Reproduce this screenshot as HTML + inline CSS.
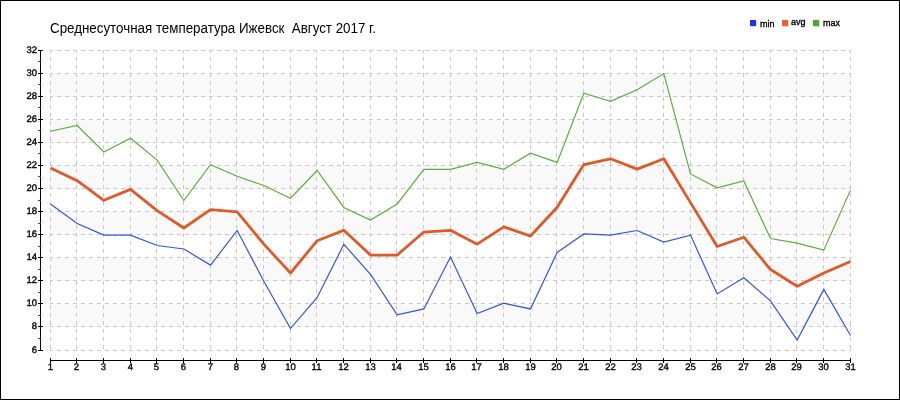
<!DOCTYPE html>
<html><head><meta charset="utf-8"><style>
html,body{margin:0;padding:0;background:#fff;}
.wrap{position:relative;width:898px;height:398px;border:1px solid #000;overflow:hidden;background:#fff;}
svg{position:absolute;left:-1px;top:-1px;will-change:transform;}
text{font-family:"Liberation Sans",sans-serif;fill:#000;}
.g{stroke:#c8c8c8;stroke-width:1;stroke-dasharray:4 4;stroke-dashoffset:1;}
.yl{font-size:9.5px;text-rendering:geometricPrecision;text-anchor:end;stroke:#000;stroke-width:0.35px;}
.xl{font-size:9.5px;text-rendering:geometricPrecision;text-anchor:middle;stroke:#000;stroke-width:0.35px;}
.lg{font-size:9px;stroke:#000;stroke-width:0.35px;}
.tt{font-size:14px;}
</style></head><body><div class="wrap">
<svg width="900" height="400" viewBox="0 0 900 400">
<rect x="50" y="74" width="801" height="23" fill="#f9f9f9"/>
<rect x="50" y="120" width="801" height="23" fill="#f9f9f9"/>
<rect x="50" y="166" width="801" height="23" fill="#f9f9f9"/>
<rect x="50" y="212" width="801" height="23" fill="#f9f9f9"/>
<rect x="50" y="258" width="801" height="23" fill="#f9f9f9"/>
<rect x="50" y="304" width="801" height="23" fill="#f9f9f9"/>
<line x1="50" y1="350.5" x2="851" y2="350.5" class="g"/>
<line x1="50" y1="326.5" x2="851" y2="326.5" class="g"/>
<line x1="50" y1="303.5" x2="851" y2="303.5" class="g"/>
<line x1="50" y1="280.5" x2="851" y2="280.5" class="g"/>
<line x1="50" y1="257.5" x2="851" y2="257.5" class="g"/>
<line x1="50" y1="234.5" x2="851" y2="234.5" class="g"/>
<line x1="50" y1="211.5" x2="851" y2="211.5" class="g"/>
<line x1="50" y1="188.5" x2="851" y2="188.5" class="g"/>
<line x1="50" y1="165.5" x2="851" y2="165.5" class="g"/>
<line x1="50" y1="142.5" x2="851" y2="142.5" class="g"/>
<line x1="50" y1="119.5" x2="851" y2="119.5" class="g"/>
<line x1="50" y1="96.5" x2="851" y2="96.5" class="g"/>
<line x1="50" y1="73.5" x2="851" y2="73.5" class="g"/>
<line x1="50" y1="50.5" x2="851" y2="50.5" class="g"/>
<line x1="50.5" y1="50" x2="50.5" y2="351" class="g"/>
<line x1="76.5" y1="50" x2="76.5" y2="351" class="g"/>
<line x1="103.5" y1="50" x2="103.5" y2="351" class="g"/>
<line x1="130.5" y1="50" x2="130.5" y2="351" class="g"/>
<line x1="156.5" y1="50" x2="156.5" y2="351" class="g"/>
<line x1="183.5" y1="50" x2="183.5" y2="351" class="g"/>
<line x1="210.5" y1="50" x2="210.5" y2="351" class="g"/>
<line x1="236.5" y1="50" x2="236.5" y2="351" class="g"/>
<line x1="263.5" y1="50" x2="263.5" y2="351" class="g"/>
<line x1="290.5" y1="50" x2="290.5" y2="351" class="g"/>
<line x1="316.5" y1="50" x2="316.5" y2="351" class="g"/>
<line x1="343.5" y1="50" x2="343.5" y2="351" class="g"/>
<line x1="370.5" y1="50" x2="370.5" y2="351" class="g"/>
<line x1="396.5" y1="50" x2="396.5" y2="351" class="g"/>
<line x1="423.5" y1="50" x2="423.5" y2="351" class="g"/>
<line x1="450.5" y1="50" x2="450.5" y2="351" class="g"/>
<line x1="476.5" y1="50" x2="476.5" y2="351" class="g"/>
<line x1="503.5" y1="50" x2="503.5" y2="351" class="g"/>
<line x1="530.5" y1="50" x2="530.5" y2="351" class="g"/>
<line x1="556.5" y1="50" x2="556.5" y2="351" class="g"/>
<line x1="583.5" y1="50" x2="583.5" y2="351" class="g"/>
<line x1="610.5" y1="50" x2="610.5" y2="351" class="g"/>
<line x1="636.5" y1="50" x2="636.5" y2="351" class="g"/>
<line x1="663.5" y1="50" x2="663.5" y2="351" class="g"/>
<line x1="690.5" y1="50" x2="690.5" y2="351" class="g"/>
<line x1="716.5" y1="50" x2="716.5" y2="351" class="g"/>
<line x1="743.5" y1="50" x2="743.5" y2="351" class="g"/>
<line x1="770.5" y1="50" x2="770.5" y2="351" class="g"/>
<line x1="796.5" y1="50" x2="796.5" y2="351" class="g"/>
<line x1="823.5" y1="50" x2="823.5" y2="351" class="g"/>
<line x1="850.5" y1="50" x2="850.5" y2="351" class="g"/>
<line x1="40.5" y1="50" x2="40.5" y2="351" stroke="#000" stroke-width="1"/>
<line x1="38" y1="350.5" x2="43" y2="350.5" stroke="#000"/>
<text x="37" y="353.0" class="yl">6</text>
<line x1="38" y1="326.5" x2="43" y2="326.5" stroke="#000"/>
<text x="37" y="329.0" class="yl">8</text>
<line x1="38" y1="303.5" x2="43" y2="303.5" stroke="#000"/>
<text x="37" y="306.0" class="yl">10</text>
<line x1="38" y1="280.5" x2="43" y2="280.5" stroke="#000"/>
<text x="37" y="283.0" class="yl">12</text>
<line x1="38" y1="257.5" x2="43" y2="257.5" stroke="#000"/>
<text x="37" y="260.0" class="yl">14</text>
<line x1="38" y1="234.5" x2="43" y2="234.5" stroke="#000"/>
<text x="37" y="237.0" class="yl">16</text>
<line x1="38" y1="211.5" x2="43" y2="211.5" stroke="#000"/>
<text x="37" y="214.0" class="yl">18</text>
<line x1="38" y1="188.5" x2="43" y2="188.5" stroke="#000"/>
<text x="37" y="191.0" class="yl">20</text>
<line x1="38" y1="165.5" x2="43" y2="165.5" stroke="#000"/>
<text x="37" y="168.0" class="yl">22</text>
<line x1="38" y1="142.5" x2="43" y2="142.5" stroke="#000"/>
<text x="37" y="145.0" class="yl">24</text>
<line x1="38" y1="119.5" x2="43" y2="119.5" stroke="#000"/>
<text x="37" y="122.0" class="yl">26</text>
<line x1="38" y1="96.5" x2="43" y2="96.5" stroke="#000"/>
<text x="37" y="99.0" class="yl">28</text>
<line x1="38" y1="73.5" x2="43" y2="73.5" stroke="#000"/>
<text x="37" y="76.0" class="yl">30</text>
<line x1="38" y1="50.5" x2="43" y2="50.5" stroke="#000"/>
<text x="37" y="53.0" class="yl">32</text>
<line x1="38" y1="338.5" x2="41" y2="338.5" stroke="#f00"/>
<line x1="38" y1="315.5" x2="41" y2="315.5" stroke="#f00"/>
<line x1="38" y1="292.5" x2="41" y2="292.5" stroke="#f00"/>
<line x1="38" y1="269.5" x2="41" y2="269.5" stroke="#f00"/>
<line x1="38" y1="246.5" x2="41" y2="246.5" stroke="#f00"/>
<line x1="38" y1="223.5" x2="41" y2="223.5" stroke="#f00"/>
<line x1="38" y1="200.5" x2="41" y2="200.5" stroke="#f00"/>
<line x1="38" y1="176.5" x2="41" y2="176.5" stroke="#f00"/>
<line x1="38" y1="153.5" x2="41" y2="153.5" stroke="#f00"/>
<line x1="38" y1="130.5" x2="41" y2="130.5" stroke="#f00"/>
<line x1="38" y1="107.5" x2="41" y2="107.5" stroke="#f00"/>
<line x1="38" y1="84.5" x2="41" y2="84.5" stroke="#f00"/>
<line x1="38" y1="61.5" x2="41" y2="61.5" stroke="#f00"/>
<line x1="50" y1="360.5" x2="851" y2="360.5" stroke="#000"/>
<line x1="50.5" y1="358" x2="50.5" y2="363" stroke="#000"/>
<text x="50.5" y="370" class="xl">1</text>
<line x1="76.5" y1="358" x2="76.5" y2="363" stroke="#000"/>
<text x="76.5" y="370" class="xl">2</text>
<line x1="103.5" y1="358" x2="103.5" y2="363" stroke="#000"/>
<text x="103.5" y="370" class="xl">3</text>
<line x1="130.5" y1="358" x2="130.5" y2="363" stroke="#000"/>
<text x="130.5" y="370" class="xl">4</text>
<line x1="156.5" y1="358" x2="156.5" y2="363" stroke="#000"/>
<text x="156.5" y="370" class="xl">5</text>
<line x1="183.5" y1="358" x2="183.5" y2="363" stroke="#000"/>
<text x="183.5" y="370" class="xl">6</text>
<line x1="210.5" y1="358" x2="210.5" y2="363" stroke="#000"/>
<text x="210.5" y="370" class="xl">7</text>
<line x1="236.5" y1="358" x2="236.5" y2="363" stroke="#000"/>
<text x="236.5" y="370" class="xl">8</text>
<line x1="263.5" y1="358" x2="263.5" y2="363" stroke="#000"/>
<text x="263.5" y="370" class="xl">9</text>
<line x1="290.5" y1="358" x2="290.5" y2="363" stroke="#000"/>
<text x="290.5" y="370" class="xl">10</text>
<line x1="316.5" y1="358" x2="316.5" y2="363" stroke="#000"/>
<text x="316.5" y="370" class="xl">11</text>
<line x1="343.5" y1="358" x2="343.5" y2="363" stroke="#000"/>
<text x="343.5" y="370" class="xl">12</text>
<line x1="370.5" y1="358" x2="370.5" y2="363" stroke="#000"/>
<text x="370.5" y="370" class="xl">13</text>
<line x1="396.5" y1="358" x2="396.5" y2="363" stroke="#000"/>
<text x="396.5" y="370" class="xl">14</text>
<line x1="423.5" y1="358" x2="423.5" y2="363" stroke="#000"/>
<text x="423.5" y="370" class="xl">15</text>
<line x1="450.5" y1="358" x2="450.5" y2="363" stroke="#000"/>
<text x="450.5" y="370" class="xl">16</text>
<line x1="476.5" y1="358" x2="476.5" y2="363" stroke="#000"/>
<text x="476.5" y="370" class="xl">17</text>
<line x1="503.5" y1="358" x2="503.5" y2="363" stroke="#000"/>
<text x="503.5" y="370" class="xl">18</text>
<line x1="530.5" y1="358" x2="530.5" y2="363" stroke="#000"/>
<text x="530.5" y="370" class="xl">19</text>
<line x1="556.5" y1="358" x2="556.5" y2="363" stroke="#000"/>
<text x="556.5" y="370" class="xl">20</text>
<line x1="583.5" y1="358" x2="583.5" y2="363" stroke="#000"/>
<text x="583.5" y="370" class="xl">21</text>
<line x1="610.5" y1="358" x2="610.5" y2="363" stroke="#000"/>
<text x="610.5" y="370" class="xl">22</text>
<line x1="636.5" y1="358" x2="636.5" y2="363" stroke="#000"/>
<text x="636.5" y="370" class="xl">23</text>
<line x1="663.5" y1="358" x2="663.5" y2="363" stroke="#000"/>
<text x="663.5" y="370" class="xl">24</text>
<line x1="690.5" y1="358" x2="690.5" y2="363" stroke="#000"/>
<text x="690.5" y="370" class="xl">25</text>
<line x1="716.5" y1="358" x2="716.5" y2="363" stroke="#000"/>
<text x="716.5" y="370" class="xl">26</text>
<line x1="743.5" y1="358" x2="743.5" y2="363" stroke="#000"/>
<text x="743.5" y="370" class="xl">27</text>
<line x1="770.5" y1="358" x2="770.5" y2="363" stroke="#000"/>
<text x="770.5" y="370" class="xl">28</text>
<line x1="796.5" y1="358" x2="796.5" y2="363" stroke="#000"/>
<text x="796.5" y="370" class="xl">29</text>
<line x1="823.5" y1="358" x2="823.5" y2="363" stroke="#000"/>
<text x="823.5" y="370" class="xl">30</text>
<line x1="850.5" y1="358" x2="850.5" y2="363" stroke="#000"/>
<text x="850.5" y="370" class="xl">31</text>
<polyline points="50.50,131.27 77.17,125.50 103.83,152.04 130.50,138.19 157.17,160.12 183.83,200.50 210.50,164.73 237.17,176.27 263.83,185.50 290.50,198.19 317.17,170.50 343.83,207.42 370.50,220.12 397.17,203.96 423.83,169.35 450.50,169.35 477.17,162.42 503.83,169.35 530.50,153.19 557.17,162.42 583.83,93.19 610.50,101.27 637.17,89.73 663.83,73.58 690.50,173.96 717.17,187.81 743.83,180.88 770.50,238.58 797.17,243.19 823.83,250.12 850.50,190.12" fill="none" stroke="#5aaf3c" stroke-width="1.2"/>
<polyline points="50.50,203.96 77.17,223.58 103.83,235.12 130.50,235.12 157.17,245.50 183.83,248.96 210.50,265.12 237.17,230.50 263.83,281.27 290.50,328.58 317.17,297.42 343.83,244.35 370.50,274.35 397.17,314.73 423.83,308.96 450.50,257.04 477.17,313.58 503.83,303.19 530.50,308.96 557.17,252.42 583.83,233.96 610.50,235.12 637.17,230.50 663.83,242.04 690.50,235.12 717.17,293.96 743.83,277.81 770.50,300.88 797.17,340.12 823.83,289.35 850.50,335.50" fill="none" stroke="#3355e6" stroke-width="1.2"/>
<polyline points="50.50,167.99 77.17,180.68 103.83,200.30 130.50,189.34 157.17,210.68 183.83,227.99 210.50,209.53 237.17,211.84 263.83,244.15 290.50,272.99 317.17,240.68 343.83,230.30 370.50,255.11 397.17,255.11 423.83,232.03 450.50,230.30 477.17,244.15 503.83,226.84 530.50,236.07 557.17,207.22 583.83,164.53 610.50,158.76 637.17,169.15 663.83,158.76 690.50,202.61 717.17,246.45 743.83,237.22 770.50,269.53 797.17,286.26 823.83,272.99 850.50,261.45" fill="none" stroke="#e05a28" stroke-width="2.8" stroke-linejoin="round"/>
<rect x="751" y="21" width="6" height="6" fill="#ddd8e0"/>
<rect x="750" y="20" width="6" height="6" fill="#1a35e8"/>
<text x="760" y="27" class="lg">min</text>
<rect x="783" y="21" width="6" height="6" fill="#ddd8e0"/>
<rect x="782" y="20" width="6" height="6" fill="#e8652a"/>
<text x="791" y="24.5" class="lg">avg</text>
<rect x="814" y="21" width="6" height="6" fill="#ddd8e0"/>
<rect x="813" y="20" width="6" height="6" fill="#40b020"/>
<text x="823" y="26" class="lg">max</text>
<text transform="translate(50,33) scale(0.954,1)" x="0" y="0" class="tt">Среднесуточная температура Ижевск&#160; Август 2017 г.</text>
</svg></div></body></html>
